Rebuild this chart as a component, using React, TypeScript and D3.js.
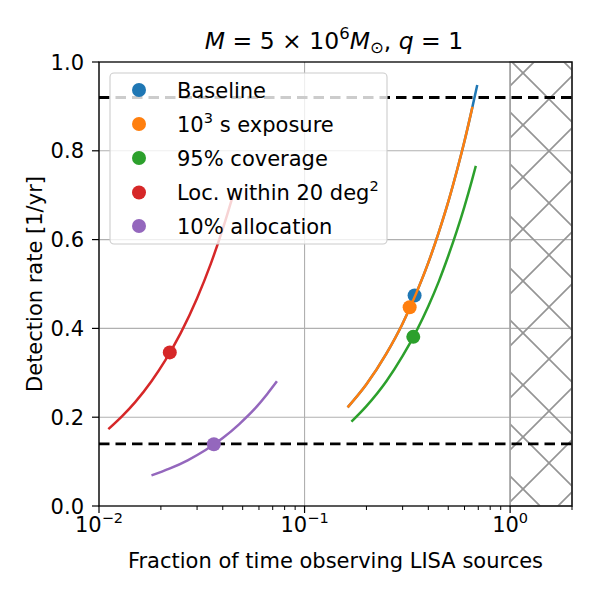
import React from "react";
import * as d3 from "d3";

// ---- data ----
const baselineFrac = [0.162, 0.2, 0.25, 0.3, 0.35, 0.4, 0.45, 0.5, 0.55, 0.6, 0.65, 0.692];
const baselineRate = [0.222, 0.274, 0.343, 0.411, 0.48, 0.548, 0.617, 0.685, 0.754, 0.822, 0.891, 0.948];
const exposureFrac = [0.162, 0.2, 0.25, 0.3, 0.35, 0.4, 0.45, 0.5, 0.55, 0.6, 0.656];
const exposureRate = [0.222, 0.274, 0.343, 0.411, 0.48, 0.548, 0.617, 0.685, 0.754, 0.822, 0.899];
const coverageFrac = [0.169, 0.2, 0.25, 0.3, 0.35, 0.4, 0.45, 0.5, 0.55, 0.6, 0.65, 0.681];
const coverageRate = [0.19, 0.225, 0.281, 0.338, 0.394, 0.45, 0.506, 0.563, 0.619, 0.675, 0.731, 0.766];
const locFrac = [0.0111, 0.013, 0.015, 0.018, 0.021, 0.025, 0.03, 0.035, 0.04, 0.045];
const locRate = [0.173, 0.203, 0.234, 0.281, 0.328, 0.39, 0.468, 0.546, 0.624, 0.702];
const allocFrac = [0.018, 0.022, 0.027, 0.033, 0.04, 0.048, 0.057, 0.066, 0.0734];
const allocRate = [0.069, 0.084, 0.103, 0.126, 0.153, 0.184, 0.218, 0.253, 0.281];

const pointFrac = [0.343, 0.3245, 0.338, 0.0221, 0.0362];
const pointRate = [0.474, 0.4475, 0.381, 0.346, 0.139];

const thresholds = [0.92, 0.14];
const yTicks = [0, 0.2, 0.4, 0.6, 0.8, 1.0];
const xMajorTicks = [0.01, 0.1, 1];
const xTickExps = ["−2", "−1", "0"];
const colors = ["#1f77b4", "#ff7f0e", "#2ca02c", "#d62728", "#9467bd"];

const FONT = "DejaVu Sans, sans-serif";
const FS = 21;

export default function App() {
  const left = 99, right = 572, top = 62, bottom = 506;
  const x = d3.scaleLog().domain([0.01, 2]).range([left, right]);
  const y = d3.scaleLinear().domain([0, 1]).range([bottom, top]);

  const series = [
    { f: baselineFrac, r: baselineRate },
    { f: exposureFrac, r: exposureRate },
    { f: coverageFrac, r: coverageRate },
    { f: locFrac, r: locRate },
    { f: allocFrac, r: allocRate },
  ];
  const line = d3
    .line<[number, number]>()
    .x((d) => x(d[0]))
    .y((d) => y(d[1]))
    .curve(d3.curveMonotoneX);

  const minorTicks: number[] = [];
  [0.01, 0.1, 1].forEach((dec) => {
    for (let k = 2; k <= 9; k++) {
      const v = dec * k;
      if (v <= 2.0001) minorTicks.push(v);
    }
  });

  const legendLabels: React.ReactNode[] = [
    "Baseline",
    <>
      10<tspan dy={-9} fontSize={14.5}>3</tspan>
      <tspan dy={9}> s exposure</tspan>
    </>,
    "95% coverage",
    <>
      Loc. within 20 deg<tspan dy={-9} fontSize={14.5}>2</tspan>
    </>,
    "10% allocation",
  ];
  const legendRows = [90, 124, 158, 192.5, 226];

  return (
    <svg
      width={600}
      height={600}
      style={{ position: "absolute", left: 0, top: 0, background: "#fff" }}
      fontFamily={FONT}
    >
      <defs>
        <pattern
          id="hatch"
          patternUnits="userSpaceOnUse"
          width={52}
          height={52}
          patternTransform="translate(29,-5)"
        >
          <line x1={0} y1={0} x2={52} y2={52} stroke="#959595" strokeWidth={1.7} />
          <line x1={0} y1={52} x2={52} y2={0} stroke="#959595" strokeWidth={1.7} />
        </pattern>
        <clipPath id="plot">
          <rect x={left} y={top} width={right - left} height={bottom - top} />
        </clipPath>
      </defs>
      <rect width={600} height={600} fill="#fff" />

      {/* grid */}
      {yTicks.slice(1, -1).map((t) => (
        <line key={"gy" + t} x1={left} x2={right} y1={y(t)} y2={y(t)} stroke="#b0b0b0" strokeWidth={1.1} />
      ))}
      {xMajorTicks.map((t) => (
        <line key={"gx" + t} x1={x(t)} x2={x(t)} y1={top} y2={bottom} stroke="#b0b0b0" strokeWidth={1.1} />
      ))}

      {/* hatched region */}
      <rect
        x={x(1)}
        y={top}
        width={right - x(1)}
        height={bottom - top}
        fill="url(#hatch)"
        stroke="#a0a0a0"
        strokeWidth={1.6}
      />

      {/* threshold lines */}
      {thresholds.map((t) => (
        <line
          key={"th" + t}
          x1={left}
          x2={right}
          y1={y(t)}
          y2={y(t)}
          stroke="#000"
          strokeWidth={2.8}
          strokeDasharray="10.5 6"
        />
      ))}

      {/* curves and points */}
      <g clipPath="url(#plot)">
        {series.map((s, i) => (
          <g key={"s" + i}>
            <path
              d={line(s.f.map((f, j) => [f, s.r[j]] as [number, number])) || ""}
              fill="none"
              stroke={colors[i]}
              strokeWidth={2.5}
            />
            <circle cx={x(pointFrac[i])} cy={y(pointRate[i])} r={7} fill={colors[i]} />
          </g>
        ))}
      </g>

      {/* legend */}
      <rect x={110} y={73} width={277} height={171} rx={4} fill="#fff" fillOpacity={0.8} stroke="#cccccc" strokeWidth={1.1} />
      {legendRows.map((ry, i) => (
        <g key={"lg" + i}>
          <circle cx={139} cy={ry} r={7} fill={colors[i]} />
          <text x={177} y={ry + 7.5} fontSize={FS} fill="#000">
            {legendLabels[i]}
          </text>
        </g>
      ))}

      {/* spines */}
      <rect x={left} y={top} width={right - left} height={bottom - top} fill="none" stroke="#000" strokeWidth={1.3} />

      {/* y ticks */}
      {yTicks.map((t) => (
        <g key={"yt" + t}>
          <line x1={left - 7} x2={left} y1={y(t)} y2={y(t)} stroke="#000" strokeWidth={1.2} />
          <text x={84} y={y(t) + 7.5} fontSize={FS} textAnchor="end" fill="#000">
            {t.toFixed(1)}
          </text>
        </g>
      ))}

      {/* x ticks */}
      {minorTicks.map((t) => (
        <line key={"xm" + t} x1={x(t)} x2={x(t)} y1={bottom} y2={bottom + 4} stroke="#000" strokeWidth={1} />
      ))}
      {xMajorTicks.map((t, i) => (
        <g key={"xt" + t}>
          <line x1={x(t)} x2={x(t)} y1={bottom} y2={bottom + 7} stroke="#000" strokeWidth={1.2} />
          <text x={x(t)} y={532} fontSize={FS} textAnchor="middle" fill="#000">
            10<tspan dy={-9} fontSize={14.5}>{xTickExps[i]}</tspan>
          </text>
        </g>
      ))}

      {/* axis labels */}
      <text x={335.5} y={568} fontSize={FS} textAnchor="middle" fill="#000">
        Fraction of time observing LISA sources
      </text>
      <text
        transform={`translate(42,${(top + bottom) / 2}) rotate(-90)`}
        fontSize={FS}
        textAnchor="middle"
        fill="#000"
      >
        Detection rate [1/yr]
      </text>

      {/* title */}
      <text x={334} y={49} fontSize={23.5} textAnchor="middle" fill="#000">
        <tspan fontStyle="italic">M</tspan>
        <tspan> = 5 × 10</tspan>
        <tspan dy={-10} fontSize={16.5}>6</tspan>
        <tspan dy={10} fontStyle="italic">M</tspan>
        <tspan dy={4} fontSize={16.5}>⊙</tspan>
        <tspan dy={-4}>, </tspan>
        <tspan fontStyle="italic">q</tspan>
        <tspan> = 1</tspan>
      </text>
    </svg>
  );
}
